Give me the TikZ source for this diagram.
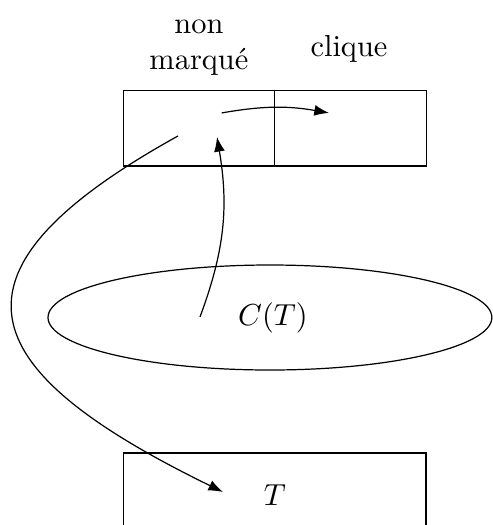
\documentclass[tikz,border=0pt]{standalone}
\usepackage{tikz}
\usetikzlibrary{arrows.meta, positioning}
\tikzset{
  cell/.style={rectangle, draw, minimum width=1.75cm, minimum height=0.87cm, inner sep=0pt},
  lbl/.style={align=center, inner sep=1pt},
}

\begin{document}
\begin{tikzpicture}[>=Latex]
  \useasboundingbox (0,0) rectangle (5.70,-6.07);
  % labels above the table
  \node[lbl] (nm) at (2.30,-0.55) {non\\marqu\'e};
  \node[lbl] (cl) at (4.035,-0.56) {clique};
  % table
  \node[cell] (left)  at (2.303,-1.484) {};
  \node[cell] (right) at (4.052,-1.484) {};
  % C(T)
  \draw (3.121,-3.671) ellipse (2.566cm and 0.607cm);
  \node (ct) at (3.156,-3.676) {$C(T)$};
  % T
  \draw (1.428,-6.07) -- (1.428,-5.237) -- (4.925,-5.237) -- (4.925,-6.07);
  \node (t) at (3.179,-5.72) {$T$};
  % arrows
  \coordinate (a1) at (2.563,-1.306);
  \coordinate (a2) at (3.803,-1.306);
  \coordinate (b1) at (2.312,-3.665);
  \coordinate (b2) at (2.509,-1.584);
  \coordinate (c1) at (2.058,-1.572);
  \coordinate (c2) at (2.578,-5.688);
  \draw[->] (a1) to[bend left=10] (a2);
  \draw[->] (b1) to[bend right=15] (b2);
  \draw[->] (c1) to[out=209, in=154, looseness=2] (c2);
\end{tikzpicture}
\end{document}
